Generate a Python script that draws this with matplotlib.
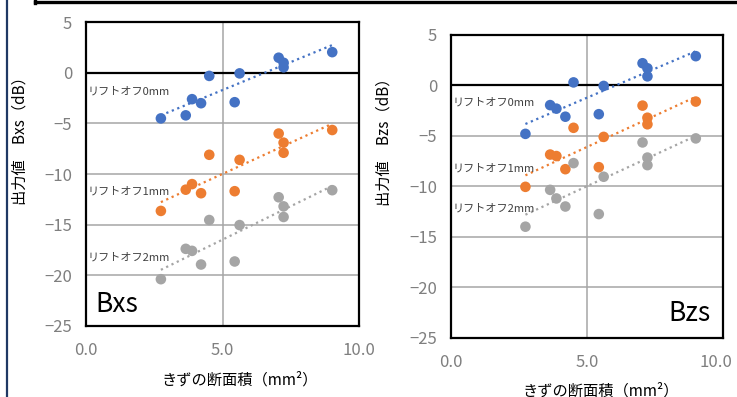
import numpy as np
import matplotlib
matplotlib.use("Agg")
import matplotlib.pyplot as plt
import matplotlib.transforms as mtransforms
from matplotlib.lines import Line2D

plt.rcParams['font.family'] = ['Noto Sans CJK JP', 'DejaVu Sans']

# flaw cross-section area (mm^2)
area = [2.74, 3.65, 3.88, 4.21, 4.51, 5.44, 5.62, 7.05, 7.23, 7.23, 9.01]

# Bxs output (dB) per lift-off
bxs_0mm = [-4.5, -4.2, -2.6, -3.0, -0.3, -2.9, -0.05, 1.5, 1.0, 0.55, 2.05]
bxs_1mm = [-13.65, -11.55, -11.0, -11.9, -8.1, -11.7, -8.6, -6.0, -6.9, -7.9, -5.65]
bxs_2mm = [-20.4, -17.4, -17.6, -18.95, -14.55, -18.65, -15.05, -12.3, -13.2, -14.25, -11.6]

# Bzs output (dB) per lift-off
bzs_0mm = [-4.8, -1.95, -2.3, -3.1, 0.3, -2.85, -0.05, 2.2, 1.7, 0.9, 2.9]
bzs_1mm = [-10.05, -6.85, -7.0, -8.3, -4.2, -8.1, -5.1, -2.0, -3.2, -3.85, -1.6]
bzs_2mm = [-14.0, -10.35, -11.2, -12.0, -7.7, -12.75, -9.05, -5.65, -7.15, -7.9, -5.25]

lift_labels = ['リフトオフ0mm', 'リフトオフ1mm', 'リフトオフ2mm']
colors = ['#4472C4', '#ED7D31', '#A5A5A5']
tick_gray = '#7F7F7F'
grid_gray = '#A6A6A6'

fig = plt.figure(figsize=(7.37, 3.97), dpi=100)


def draw_panel(rect, series, label_y, name, name_xy, name_ha):
    ax = fig.add_axes(rect)
    ax.set_xlim(0, 10)
    ax.set_ylim(-25, 5)
    ax.set_xticks([0, 5, 10])
    ax.set_xticklabels(['0.0', '5.0', '10.0'])
    ax.set_yticks(range(-25, 6, 5))
    ax.tick_params(length=0, colors=tick_gray, labelsize=12, pad=10)
    ax.tick_params(axis='x', pad=12)
    for s in ax.spines.values():
        s.set_linewidth(1.6)
        s.set_color('black')
    for yv in range(-20, 5, 5):
        ax.axhline(yv, color=grid_gray, lw=1.1, zorder=0)
    ax.axvline(5, color=grid_gray, lw=1.1, zorder=0)
    ax.axhline(0, color='black', lw=1.6, zorder=1)

    x = np.array(area)
    for vals, c, lab, ly in zip(series, colors, lift_labels, label_y):
        y = np.array(vals)
        k, b = np.polyfit(x, y, 1)
        xs = np.array([x.min(), x.max()])
        ax.plot(xs, k * xs + b, ':', color=c, lw=1.6, zorder=2)
        ax.scatter(x, y, s=58, color=c, edgecolors='none', zorder=3)
        ax.text(0.05, ly, lab, fontsize=8, color='#404040', va='center', ha='left', zorder=4)

    ax.text(name_xy[0], name_xy[1], name, fontsize=19, color='black',
            ha=name_ha, va='center', zorder=4)
    return ax


draw_panel([0.1167, 0.1796, 0.3708, 0.7642],
           [bxs_0mm, bxs_1mm, bxs_2mm], [-1.8, -11.7, -18.3],
           'Bxs', (0.35, -22.9), 'left')
ax_r = draw_panel([0.6119, 0.1494, 0.3687, 0.7625],
                  [bzs_0mm, bzs_1mm, bzs_2mm], [-1.7, -8.2, -12.2],
                  'Bzs', (9.55, -22.6), 'right')

# keep the last x tick label of the right panel inside the figure
last = ax_r.get_xticklabels()[-1]
last.set_transform(last.get_transform() +
                   mtransforms.ScaledTranslation(-7 / 100, 0, fig.dpi_scale_trans))

fig.text(20 / 737, 1 - 137 / 397, '出力値　Bxs（dB）', rotation=90,
         ha='center', va='center', fontsize=11, color='black')
fig.text(384 / 737, 1 - 138 / 397, '出力値　Bzs（dB）', rotation=90,
         ha='center', va='center', fontsize=11, color='black')
fig.text(240 / 737, 1 - 380 / 397, 'きずの断面積（mm²）',
         ha='center', va='center', fontsize=11, color='black')
fig.text(601 / 737, 1 - 391 / 397, 'きずの断面積（mm²）',
         ha='center', va='center', fontsize=11, color='black')

# frame pieces around the figure
fig.add_artist(Line2D([35 / 737, 1], [1 - 1.5 / 397, 1 - 1.5 / 397],
                      transform=fig.transFigure, color='black', lw=2.4))
fig.add_artist(Line2D([35 / 737, 35 / 737], [1, 1 - 3 / 397],
                      transform=fig.transFigure, color='black', lw=2.4))
fig.add_artist(Line2D([7 / 737, 7 / 737], [0, 1],
                      transform=fig.transFigure, color='#1F3864', lw=1.6))

fig.savefig('out.png', dpi=100)
